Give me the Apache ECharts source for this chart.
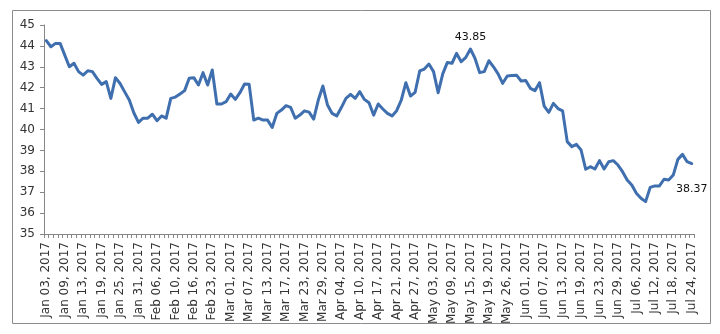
<!DOCTYPE html>
<html>
<head>
<meta charset="utf-8">
<script src="https://cdn.jsdelivr.net/npm/echarts@6/dist/echarts.min.js"></script>
<style>
  html, body { margin: 0; padding: 0; background: #ffffff; }
  #chart { width: 720px; height: 334px; }
</style>
</head>
<body>
<div id="chart"></div>
<script>
// Trading session range and the weekdays on which no value was recorded
const firstDay = '2017-01-03';
const lastDay = '2017-07-24';
const closedDays = ['2017-02-20', '2017-04-14', '2017-05-22', '2017-07-04'];

// Daily closing values, one per trading session
const closeValues = [
  44.25, 43.96, 44.12, 44.12, 43.56, 43.00, 43.17, 42.77, 42.60, 42.81,
  42.77, 42.45, 42.16, 42.29, 41.49, 42.48, 42.20, 41.80, 41.41, 40.79,
  40.34, 40.54, 40.54, 40.73, 40.42, 40.65, 40.54, 41.49, 41.55, 41.70,
  41.86, 42.45, 42.48, 42.13, 42.72, 42.13, 42.85, 41.22, 41.22, 41.33,
  41.70, 41.44, 41.76, 42.18, 42.16, 40.45, 40.54, 40.45, 40.45, 40.10,
  40.77, 40.93, 41.14, 41.06, 40.54, 40.69, 40.89, 40.83, 40.50, 41.41,
  42.08, 41.17, 40.77, 40.65, 41.05, 41.49, 41.68, 41.49, 41.81, 41.44,
  41.28, 40.69, 41.22, 40.98, 40.77, 40.65, 40.90, 41.41, 42.24, 41.60,
  41.78, 42.80, 42.89, 43.13, 42.77, 41.76, 42.66, 43.21, 43.17, 43.64,
  43.24, 43.45, 43.85, 43.40, 42.72, 42.77, 43.29, 43.00, 42.66, 42.21,
  42.56, 42.58, 42.60, 42.32, 42.34, 41.97, 41.86, 42.24, 41.12, 40.82,
  41.25, 41.00, 40.89, 39.42, 39.18, 39.29, 39.02, 38.10, 38.22, 38.11,
  38.51, 38.11, 38.46, 38.51, 38.30, 37.98, 37.58, 37.34, 36.95, 36.71,
  36.55, 37.23, 37.30, 37.30, 37.62, 37.58, 37.82, 38.57, 38.81, 38.46,
  38.37
];

// Sessions whose value is printed next to the line (high of the period, latest close)
const annotatedSessions = [92, 140];

// Value axis range
const yMin = 35, yMax = 45, yStep = 1;

const MONTHS = ['Jan','Feb','Mar','Apr','May','Jun','Jul','Aug','Sep','Oct','Nov','Dec'];

function tradingDays(from, to, skip) {
  const out = [];
  const d = new Date(from + 'T00:00:00Z');
  const end = new Date(to + 'T00:00:00Z');
  while (d <= end) {
    const wd = d.getUTCDay();
    const iso = d.toISOString().slice(0, 10);
    if (wd !== 0 && wd !== 6 && skip.indexOf(iso) < 0) {
      const dd = String(d.getUTCDate()).padStart(2, '0');
      out.push(MONTHS[d.getUTCMonth()] + ' ' + dd + ', ' + d.getUTCFullYear());
    }
    d.setUTCDate(d.getUTCDate() + 1);
  }
  return out;
}

const sessions = tradingDays(firstDay, lastDay, closedDays);

const lineColor = '#3f6fae';
const axisColor = '#868686';
const textColor = '#333333';
const fontFamily = '"DejaVu Sans", Verdana, sans-serif';

const seriesData = closeValues.map(function (v, i) {
  if (annotatedSessions.indexOf(i) < 0) return v;
  const last = i === closeValues.length - 1;
  return {
    value: v,
    label: {
      show: true,
      position: last ? 'bottom' : 'top',
      distance: last ? 20 : 6,
      formatter: function (p) { return p.value.toFixed(2); },
      color: '#111111',
      fontSize: 11,
      fontFamily: fontFamily
    }
  };
});

const chart = echarts.init(document.getElementById('chart'), null, { renderer: 'canvas' });

chart.setOption({
  backgroundColor: '#ffffff',
  animation: false,
  graphic: [{
    type: 'rect',
    shape: { x: 12.5, y: 10.5, width: 698, height: 313 },
    style: { fill: 'none', stroke: '#8c8c8c', lineWidth: 1 },
    silent: true
  }],
  grid: { left: 44, right: 26, top: 25, bottom: 100 },
  xAxis: {
    type: 'category',
    data: sessions,
    boundaryGap: true,
    axisLine: { lineStyle: { color: axisColor, width: 1 } },
    axisTick: { show: true, interval: 0, length: 4, lineStyle: { color: axisColor } },
    axisLabel: {
      interval: 3,
      rotate: 90,
      margin: 8,
      color: textColor,
      fontSize: 12,
      fontFamily: fontFamily
    },
    splitLine: { show: false }
  },
  yAxis: {
    type: 'value',
    min: yMin,
    max: yMax,
    interval: yStep,
    axisLine: { show: true, lineStyle: { color: axisColor, width: 1 } },
    axisTick: { show: true, length: 4, lineStyle: { color: axisColor } },
    axisLabel: {
      margin: 9,
      color: textColor,
      fontSize: 12,
      fontFamily: fontFamily
    },
    splitLine: { show: false }
  },
  series: [{
    type: 'line',
    data: seriesData,
    symbol: 'circle',
    symbolSize: 1,
    showSymbol: true,
    showAllSymbol: true,
    smooth: false,
    lineStyle: { color: lineColor, width: 3, join: 'round', cap: 'round' },
    itemStyle: { color: lineColor }
  }]
});
</script>
</body>
</html>
